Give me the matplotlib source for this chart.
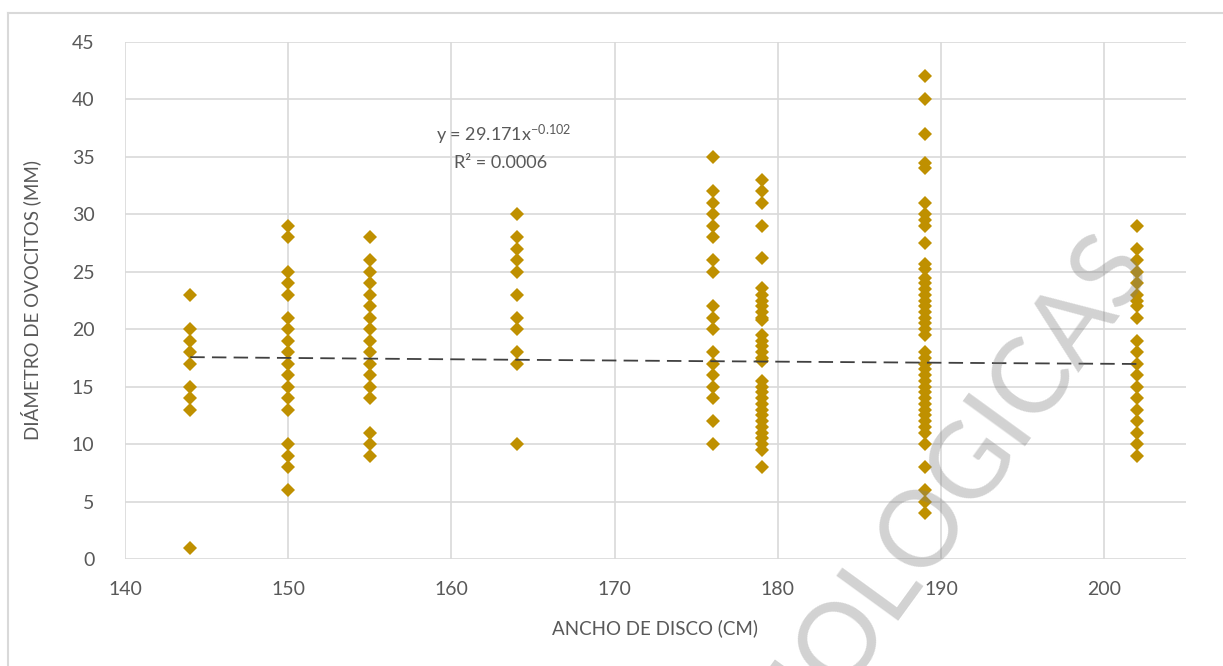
import numpy as np
import matplotlib
matplotlib.use('Agg')
import matplotlib.pyplot as plt
from matplotlib.lines import Line2D

plt.rcParams['font.family'] = ['Lato', 'DejaVu Sans']
plt.rcParams['mathtext.fontset'] = 'custom'
plt.rcParams['mathtext.rm'] = 'Lato'
plt.rcParams['mathtext.it'] = 'Lato'

# ovocyte diameters (mm) per disc width (cm)
d144 = [23, 20, 19, 18, 17, 15, 14, 13, 1]
d150 = [29, 28, 25, 24, 23, 21, 20, 19, 18, 17, 16, 15, 14, 13, 10, 9, 8, 6]
d155 = [28, 26, 25, 24, 23, 22, 21, 20, 19, 18, 17, 16, 15, 14, 11, 10, 9]
d164 = [30, 28, 27, 26, 25, 23, 21, 20, 18, 17, 10]
d176 = [35, 32, 31, 30, 29, 28, 26, 25, 22, 21, 20, 18, 17, 16, 15, 14, 12, 10]
d179 = [33, 32, 31, 29, 26.2, 23.6, 23, 22.5, 22, 21.5, 21, 20.8, 19.5, 19,
        18.5, 18, 17.5, 17.2, 15.5, 15, 14.5, 14, 13.5, 13, 12.5, 12, 11.5,
        11, 10.5, 10, 9.5, 8]
d189 = [42, 40, 37, 34.5, 34, 31, 30, 29.5, 29, 27.5, 25.7, 25.2, 24.5, 24,
        23.5, 23, 22.5, 22, 21.5, 21, 20.5, 20, 19.5, 18, 17.5, 17, 16.5, 16,
        15.5, 15, 14.5, 14, 13.5, 13, 12.5, 12, 11.5, 11, 10, 8, 6, 5, 4]
d202 = [29, 27, 26, 25, 24, 23, 22.5, 22, 21, 19, 18, 17, 16, 15, 14, 13, 12,
        11, 10, 9]

widths = [144, 150, 155, 164, 176, 179, 189, 202]
groups = [d144, d150, d155, d164, d176, d179, d189, d202]

# power trendline coefficients
coef_a = 29.171
coef_b = -0.102
r2 = 0.0006

xticks = [140, 150, 160, 170, 180, 190, 200]
yticks = [0, 5, 10, 15, 20, 25, 30, 35, 40, 45]

gray_txt = '#595959'
grid_c = '#d9d9d9'

x = np.concatenate([[w] * len(g) for w, g in zip(widths, groups)])
y = np.concatenate(groups)

fig = plt.figure(figsize=(12.23, 6.66), dpi=100)
ax = fig.add_axes([125 / 1223, 1 - 559 / 666, (1186 - 125) / 1223, (559 - 42) / 666])

ax.plot(x, y, linestyle='none', marker='D', markersize=7.6,
        markerfacecolor='#BF9000', markeredgewidth=0, zorder=3)

xt = np.linspace(min(widths), max(widths), 200)
ax.plot(xt, coef_a * xt ** coef_b, color='#404040', lw=1.3,
        linestyle=(0, (8, 4)), zorder=4)

ax.set_xlim(140, 205)
ax.set_ylim(0, 45)
ax.set_xticks(xticks)
ax.set_yticks(yticks)
ax.grid(True, color=grid_c, lw=1.2)
ax.set_axisbelow(True)
for s in ax.spines.values():
    s.set_visible(False)
ax.tick_params(length=0, labelsize=14, labelcolor=gray_txt)
ax.tick_params(axis='x', pad=22)
ax.tick_params(axis='y', pad=22)
for lbl in ax.get_xticklabels():
    lbl.set_va('center')

ax.set_xlabel('ANCHO DE DISCO (CM)', fontsize=13.5, color=gray_txt, labelpad=15)
ax.set_ylabel('DIÁMETRO DE OVOCITOS (MM)', fontsize=13.5, color=gray_txt, labelpad=22)

ax.text(163.2, 36.9, r'y = 29.171x$^{\mathregular{-0.102}}$', fontsize=13,
        color=gray_txt, ha='center', va='center')
ax.text(163.0, 34.5, 'R² = %.4f' % r2, fontsize=13, color=gray_txt,
        ha='center', va='center')

# outer chart frame
fig.add_artist(Line2D([8 / 1223, 1], [1 - 13 / 666] * 2, color=grid_c, lw=1.5))
fig.add_artist(Line2D([8 / 1223] * 2, [0, 1 - 13 / 666], color=grid_c, lw=1.5))

fig.text(942 / 1223, 170 / 666, 'BIOLOGICAS', fontsize=76, color='#7f7f7f',
         alpha=0.35, rotation=54, rotation_mode='anchor', ha='center',
         va='center', zorder=10)

fig.savefig('out.png', dpi=100)
